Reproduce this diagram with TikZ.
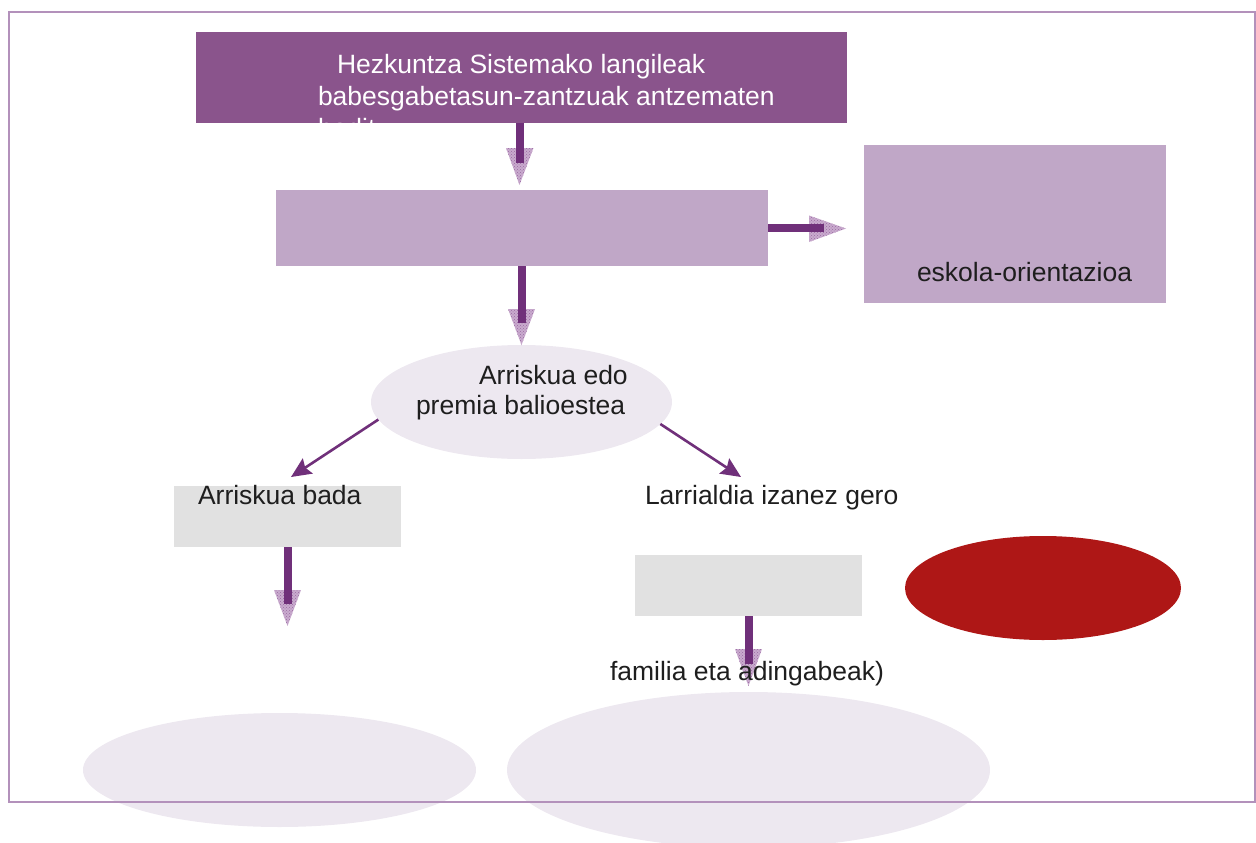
\documentclass[tikz,border=0pt]{standalone}
\usepackage{fontspec}
\setmainfont{Liberation Sans}
\usetikzlibrary{shapes.geometric,arrows.meta,patterns}
\definecolor{topc}{HTML}{8A548C}
\definecolor{lilac}{HTML}{C0A7C7}
\definecolor{pale}{HTML}{EDE8F0}
\definecolor{shaftc}{HTML}{70307A}
\definecolor{headc}{HTML}{C9ABCE}
\definecolor{headdot}{HTML}{9A6AA2}
\definecolor{framec}{HTML}{B391BB}
\definecolor{grayc}{HTML}{E1E1E1}
\definecolor{redc}{HTML}{AE1716}
\definecolor{txtc}{HTML}{1E1E1E}
\begin{document}
\begin{tikzpicture}[x=1pt,y=-1pt,
  blk/.style={rectangle,draw=none,inner sep=0pt,outer sep=0pt},
  oval/.style={ellipse,draw=none,inner sep=0pt,outer sep=0pt},
  txt/.style={anchor=base west,inner sep=0pt,outer sep=0pt,font=\fontsize{26.5}{32}\selectfont,text=txtc},
  wtxt/.style={txt,text=white},
  shaft/.style={draw=shaftc,line width=8pt},
  headfill/.style={fill=headc},
  headpat/.style={pattern=crosshatch dots,pattern color=headdot},
  thinarrow/.style={draw=shaftc,line width=2.6pt,-{Stealth[length=20pt,width=18pt,inset=3pt]}},
  framebox/.style={draw=framec,line width=2pt}
]
\useasboundingbox (0,0) rectangle (1256,843);

% bottom ellipses
\node[oval,fill=pale,minimum width=393pt,minimum height=114pt] (bl) at (279.5,770) {};
\node[oval,fill=pale,minimum width=483pt,minimum height=156pt] (br) at (748.5,770) {};

% frame
\draw[framebox] (9,12) rectangle (1255,802);

% boxes
\node[blk,fill=topc,minimum width=651pt,minimum height=90.5pt] (top) at (521.5,77.25) {};
\node[blk,fill=lilac,minimum width=492pt,minimum height=76pt] (box2) at (522,228) {};
\node[blk,fill=lilac,minimum width=302pt,minimum height=158pt] (box3) at (1015,224) {};
\node[blk,fill=grayc,minimum width=227pt,minimum height=61pt] (gray1) at (287.5,516.5) {};
\node[blk,fill=grayc,minimum width=227pt,minimum height=61pt] (gray2) at (748.5,585.5) {};
\node[oval,fill=pale,minimum width=301pt,minimum height=114pt] (ell) at (521.5,402) {};
\node[oval,fill=redc,minimum width=276pt,minimum height=104pt] (red) at (1043,588) {};

% top box text (third line clipped by the box)
\begin{scope}
\clip (top.north west) rectangle (top.south east);
\node[wtxt] (l1) at (337,74) {Hezkuntza Sistemako langileak};
\node[wtxt] (l2) at (318,106) {babesgabetasun-zantzuak antzematen};
\node[wtxt] (l3) at (318,137.5) {baditu};
\end{scope}

% block arrows
\coordinate (a1) at (520,163);
\coordinate (a2) at (824,228);
\coordinate (a3) at (521.5,323);
\coordinate (a4) at (287.5,604);
\coordinate (a5) at (748.5,664);

\fill[headfill] (506,148) -- (533.5,148) -- (519.5,185) -- cycle;
\fill[headpat] (506,148) -- (533.5,148) -- (519.5,185) -- cycle;
\draw[shaft] (top.south -| a1) -- (a1);

\fill[headfill] (809,215.5) -- (809,242) -- (846,228.5) -- cycle;
\fill[headpat] (809,215.5) -- (809,242) -- (846,228.5) -- cycle;
\draw[shaft] (box2.east |- a2) -- (a2);

\fill[headfill] (508,309) -- (535,309) -- (521.5,345) -- cycle;
\fill[headpat] (508,309) -- (535,309) -- (521.5,345) -- cycle;
\draw[shaft] (box2.south -| a3) -- (a3);

\fill[headfill] (274,590) -- (301,590) -- (287.5,626) -- cycle;
\fill[headpat] (274,590) -- (301,590) -- (287.5,626) -- cycle;
\draw[shaft] (gray1.south -| a4) -- (a4);

\fill[headfill] (735,649) -- (762,649) -- (748.5,686) -- cycle;
\fill[headpat] (735,649) -- (762,649) -- (748.5,686) -- cycle;
\draw[shaft] (gray2.south -| a5) -- (a5);

% thin arrows
\coordinate (t1) at (291,477);
\coordinate (t2) at (741,477);
\draw[thinarrow] (ell.187.6) -- (t1);
\draw[thinarrow] (ell.351) -- (t2);

% texts
\node[txt] (eo) at (917,281) {eskola-orientazioa};
\node[txt] (ar1) at (479,384) {Arriskua edo};
\node[txt] (ar2) at (416,414) {premia balioestea};
\node[txt] (bada) at (198,504) {Arriskua bada};
\node[txt] (larr) at (645,504) {Larrialdia izanez gero};
\node[txt] (fam) at (610,680) {familia eta adingabeak)};
\end{tikzpicture}
\end{document}
